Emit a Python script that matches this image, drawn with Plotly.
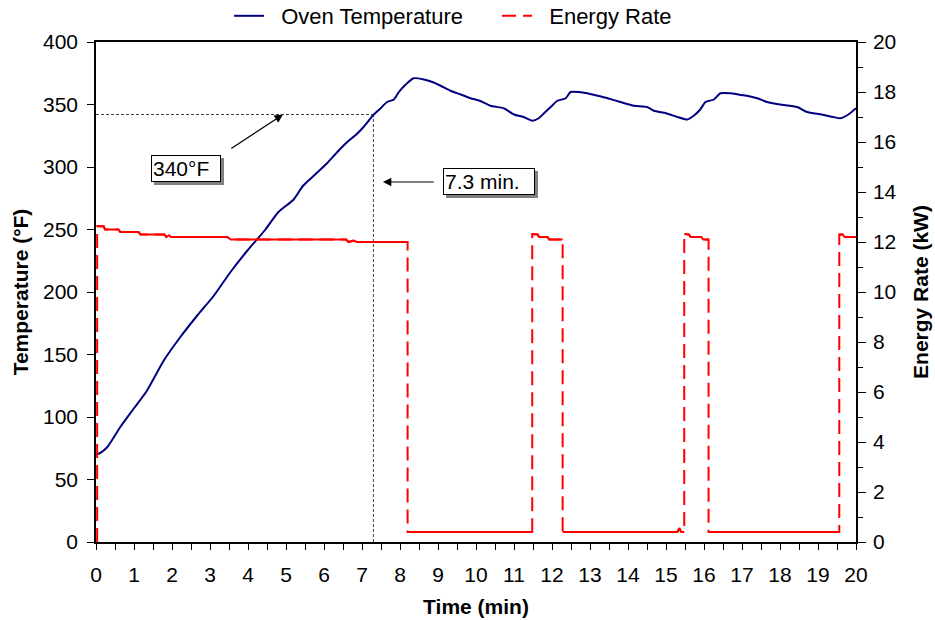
import plotly.graph_objects as go

# ---- data ----
temp_time = [0.0, 0.1, 0.3, 0.64, 1.0, 1.34, 1.78, 2.22, 2.66, 3.1, 3.54, 3.98, 4.46, 4.8,
             5.2, 5.45, 5.73, 6.08, 6.35, 6.61, 6.85, 7.04, 7.31, 7.49, 7.66, 7.84, 7.97,
             8.15, 8.36, 8.63, 8.85, 9.07, 9.33, 9.6, 9.86, 10.1, 10.38, 10.73, 11.0, 11.25,
             11.48, 11.65, 11.79, 12.0, 12.14, 12.36, 12.49, 12.7, 12.93, 13.2, 13.46, 13.8,
             14.16, 14.5, 14.68, 15.0, 15.3, 15.56, 15.73, 15.9, 16.04, 16.26, 16.43, 16.7,
             16.9, 17.13, 17.4, 17.66, 18.0, 18.45, 18.71, 19.1, 19.4, 19.59, 19.8, 20.0]
temp_f = [70, 71, 76, 92, 107, 121, 145, 164, 181, 197, 216, 233, 250, 264,
          274, 285, 293, 303, 312, 320, 326, 332, 342, 347, 352, 354, 360,
          366, 371, 370, 368, 365, 361, 358, 355, 353, 349, 347, 342, 340,
          337, 339, 343, 349, 353, 355, 360, 360, 359, 357, 355, 352,
          349, 348, 345, 343, 340, 338, 341, 346, 352, 354, 359, 359,
          358, 357, 355, 352, 350, 348, 344, 342, 340, 339, 342, 347]

energy_time = [0.03, 0.03, 0.20, 0.24, 0.59, 0.64, 1.12, 1.17, 1.80, 1.85, 1.92, 1.97,
               3.45, 3.55, 6.58, 6.65, 6.78, 6.86, 8.20, 8.20, 11.48, 11.48, 11.62, 11.66,
               11.88, 11.93, 12.28, 12.28, 15.30, 15.35, 15.40, 15.48, 15.48, 15.60, 15.65,
               15.93, 15.98, 16.12, 16.12, 19.56, 19.56, 19.65, 19.70, 20.0]
energy_kw = [0.0, 12.63, 12.63, 12.5, 12.5, 12.4, 12.4, 12.3, 12.3, 12.2, 12.27, 12.2,
             12.2, 12.1, 12.1, 12.0, 12.06, 12.0, 12.0, 0.4, 0.4, 12.32, 12.3, 12.2,
             12.2, 12.1, 12.1, 0.4, 0.4, 0.55, 0.4, 0.4, 12.32, 12.3, 12.2,
             12.2, 12.1, 12.1, 0.4, 0.4, 12.3, 12.3, 12.2, 12.2]

ref_time = 7.3
ref_temp = 342
label_temp = "340°F"
label_time = "7.3 min."

FONT = "Liberation Sans, Arial, sans-serif"
FS = 21
GAP = "\u00a0\u00a0"  # extra gap between legend symbol and label

fig = go.Figure()

# reference dashed lines
fig.add_trace(go.Scatter(x=[0, ref_time], y=[ref_temp, ref_temp], mode="lines",
                         line=dict(color="#404040", width=1, dash="3px,2px"),
                         showlegend=False, hoverinfo="skip"))
fig.add_trace(go.Scatter(x=[ref_time, ref_time], y=[0, ref_temp], mode="lines",
                         line=dict(color="#404040", width=1, dash="3px,2px"),
                         showlegend=False, hoverinfo="skip"))

fig.add_trace(go.Scatter(x=temp_time, y=temp_f, mode="lines", name=GAP + "Oven Temperature",
                         line=dict(color="#000080", width=2, shape="spline", smoothing=0.6)))

# energy: dashed full series (legend), solid overlay for level segments
fig.add_trace(go.Scatter(x=energy_time, y=energy_kw, mode="lines", name=GAP + "Energy Rate",
                         yaxis="y2", line=dict(color="#FF0000", width=2, dash="14px,7px")))
sx, sy = [], []
for i in range(len(energy_time) - 1):
    if abs(energy_kw[i + 1] - energy_kw[i]) < 2:
        if sx and sx[-1] is not None and sx[-1] == energy_time[i] and sy[-1] == energy_kw[i]:
            sx.append(energy_time[i + 1]); sy.append(energy_kw[i + 1])
        else:
            sx += [None, energy_time[i], energy_time[i + 1]]
            sy += [None, energy_kw[i], energy_kw[i + 1]]
fig.add_trace(go.Scatter(x=sx, y=sy, mode="lines", yaxis="y2", showlegend=False,
                         connectgaps=False, line=dict(color="#FF0000", width=2),
                         hoverinfo="skip"))

# annotation boxes with shadows
def box(x, y, text, w):
    fig.add_annotation(x=x, y=y, xref="x", yref="y", text="&nbsp;", showarrow=False,
                       font=dict(family=FONT, size=FS, color="#808080"),
                       bgcolor="#808080", bordercolor="#808080", borderwidth=1,
                       borderpad=1, width=w, height=23, align="left",
                       xshift=3, yshift=-3)
    fig.add_annotation(x=x, y=y, xref="x", yref="y", text=text, showarrow=False,
                       font=dict(family=FONT, size=FS, color="black"),
                       bgcolor="white", bordercolor="black", borderwidth=1,
                       borderpad=1, width=w, height=23, align="left")

box(2.38, 299, label_temp, 66)
box(10.35, 288.8, label_time, 88)

# arrows
fig.add_annotation(x=4.92, y=ref_temp, ax=3.52, ay=314, xref="x", yref="y",
                   axref="x", ayref="y", text="", showarrow=True, arrowhead=2,
                   arrowsize=1.4, arrowwidth=1.2, arrowcolor="black")
fig.add_annotation(x=7.55, y=288, ax=8.93, ay=288, xref="x", yref="y",
                   axref="x", ayref="y", text="", showarrow=True, arrowhead=2,
                   arrowsize=1.4, arrowwidth=1.2, arrowcolor="black")

W, H = 935, 620
fig.update_layout(
    width=W, height=H,
    margin=dict(l=96, r=79, t=42, b=78, autoexpand=False),
    paper_bgcolor="white", plot_bgcolor="white",
    font=dict(family=FONT, size=FS, color="black"),
    showlegend=True,
    legend=dict(orientation="h", xref="container", yref="container",
                x=497 / W, xanchor="center", y=1 - 16 / H, yanchor="middle",
                entrywidth=223, font=dict(family=FONT, size=22),
                bgcolor="rgba(0,0,0,0)"),
    xaxis=dict(range=[0, 20], dtick=1, tick0=0, ticks="outside", ticklen=6,
               tickcolor="black", showline=True, linecolor="black", linewidth=1.5,
               mirror=True, showgrid=False, zeroline=False, automargin=False,
               minor=dict(dtick=0.5, ticks="outside", ticklen=6, tickcolor="black"),
               ticklabelstandoff=7,
               title=dict(text="<b>Time (min)</b>", font=dict(family=FONT, size=FS),
                          standoff=14)),
    yaxis=dict(range=[0, 400], dtick=50, ticks="outside", ticklen=7, tickcolor="black",
               showline=True, linecolor="black", linewidth=1.5, showgrid=False,
               zeroline=False, ticklabelstandoff=5, automargin=False,
               title=dict(text="<b>Temperature (°F)</b>", font=dict(family=FONT, size=FS),
                          standoff=9)),
    yaxis2=dict(range=[0, 20], dtick=2, overlaying="y", side="right", ticks="outside",
                ticklen=8, tickcolor="black", showline=True, linecolor="black",
                linewidth=1.5, showgrid=False, zeroline=False, ticklabelstandoff=3,
                automargin=False,
                minor=dict(dtick=1, ticks="outside", ticklen=5, tickcolor="black"),
                title=dict(text="<b>Energy Rate (kW)</b>", font=dict(family=FONT, size=FS),
                           standoff=18)),
)

fig.write_html("out.html", config={"displayModeBar": False},
               post_script="document.body.style.margin='0';")
